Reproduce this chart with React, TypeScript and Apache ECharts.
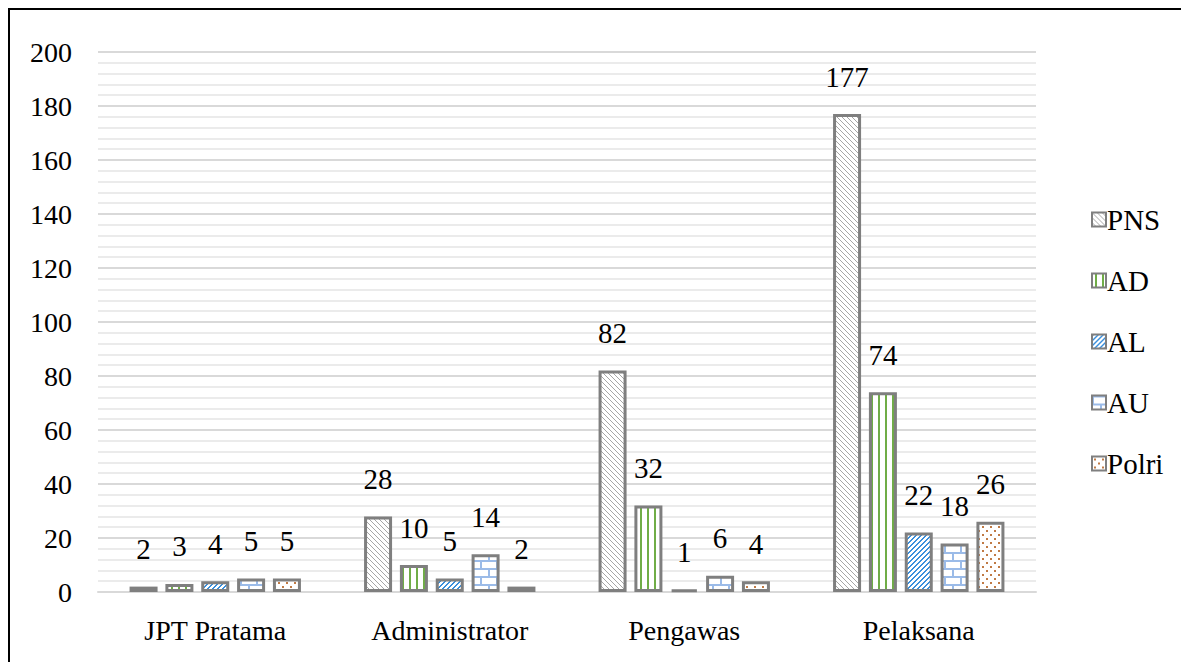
import React, { useEffect, useRef } from "react";
import * as echarts from "echarts";

const categories = ["JPT Pratama", "Administrator", "Pengawas", "Pelaksana"];
const seriesNames = ["PNS", "AD", "AL", "AU", "Polri"];
const pnsValues = [2, 28, 82, 177];
const adValues = [3, 10, 32, 74];
const alValues = [4, 5, 1, 22];
const auValues = [5, 14, 6, 18];
const polriValues = [5, 2, 4, 26];
const yTicks = [0, 20, 40, 60, 80, 100, 120, 140, 160, 180, 200];

const FONT = "Liberation Serif";

function makeTile(w: number, h: number, paint: (x: number, y: number) => string | null) {
  const c = document.createElement("canvas");
  c.width = w;
  c.height = h;
  const ctx = c.getContext("2d")!;
  ctx.fillStyle = "#ffffff";
  ctx.fillRect(0, 0, w, h);
  for (let y = 0; y < h; y++) {
    for (let x = 0; x < w; x++) {
      const col = paint(x, y);
      if (col) {
        ctx.fillStyle = col;
        ctx.fillRect(x, y, 1, 1);
      }
    }
  }
  return { image: c, repeat: "repeat", imageWidth: w, imageHeight: h };
}

export default function App() {
  const ref = useRef<HTMLDivElement>(null);
  useEffect(() => {
    if (!ref.current) return;
    const chart = echarts.init(ref.current, null, { renderer: "svg" });
    const patterns: any[] = [
      makeTile(5, 5, (x, y) => ((x - y + 5) % 5 === 0 ? "#a6a6a6" : null)),
      makeTile(7, 1, (x) => (x === 3 || x === 4 ? "#70ad47" : null)),
      makeTile(5, 5, (x, y) => ((x + y) % 5 === 0 || (x + y) % 5 === 1 ? "#3a8fdc" : null)),
      makeTile(16, 16, (x, y) => {
        if (y === 0 || y === 1 || y === 8 || y === 9) return "#9bbbe8";
        if (y < 8 && (x === 0 || x === 1)) return "#9bbbe8";
        if (y >= 8 && (x === 8 || x === 9)) return "#9bbbe8";
        return null;
      }),
      makeTile(8, 8, (x, y) => {
        if ((x === 2 || x === 3) && (y === 2 || y === 3)) return "#c07a45";
        if ((x === 6 || x === 7) && (y === 6 || y === 7)) return "#c07a45";
        return null;
      }),
    ];
    const values = [pnsValues, adValues, alValues, auValues, polriValues];
    const series = seriesNames.map((name, i) => ({
      name,
      type: "bar",
      data: values[i],
      barWidth: 28,
      barGap: "28%",
      itemStyle: {
        color: patterns[i],
        borderColor: "#7f7f7f",
        borderWidth: 3,
      },
      label: {
        show: true,
        position: "top",
        distance: 23,
        fontFamily: FONT,
        fontSize: 29,
        color: "#000",
      },
    }));
    chart.setOption({
      animation: false,
      textStyle: { fontFamily: FONT },
      grid: { left: 98, right: 153, top: 52, bottom: 78 },
      legend: {
        orient: "vertical",
        left: 1086,
        top: 200,
        itemWidth: 14,
        itemHeight: 14,
        itemGap: 32,
        icon: "rect",
        data: seriesNames,
        textStyle: { fontFamily: FONT, fontSize: 29, color: "#000", padding: [0, 0, 0, -4] },
        itemStyle: { borderWidth: 2 },
      },
      graphic: [
        { type: "line", shape: { x1: 8.5, y1: 8, x2: 8.5, y2: 670 }, style: { stroke: "#000", lineWidth: 3 } },
        { type: "line", shape: { x1: 7, y1: 9, x2: 1189, y2: 9 }, style: { stroke: "#000", lineWidth: 2 } },
      ],
      xAxis: {
        type: "category",
        data: categories,
        axisLine: { show: true, lineStyle: { color: "#d9d9d9", width: 2 } },
        axisTick: { show: false },
        axisLabel: { fontFamily: FONT, fontSize: 28, color: "#000", margin: 24 },
      },
      yAxis: {
        type: "value",
        min: yTicks[0],
        max: yTicks[yTicks.length - 1],
        interval: 20,
        axisLine: { show: false },
        axisTick: { show: false },
        axisLabel: { fontFamily: FONT, fontSize: 28, color: "#000", margin: 26 },
        splitLine: { lineStyle: { color: "#d9d9d9", width: 2 } },
        minorTick: { show: false, splitNumber: 5 },
        minorSplitLine: { show: true, lineStyle: { color: "#ebebeb", width: 2 } },
      },
      series,
    });
    return () => chart.dispose();
  }, []);
  return (
    <>
      <style>{`svg text { font-family: "Liberation Serif", "Times New Roman", serif !important; }`}</style>
      <div ref={ref} style={{ width: 1189, height: 670, margin: -8 }} />
    </>
  );
}
